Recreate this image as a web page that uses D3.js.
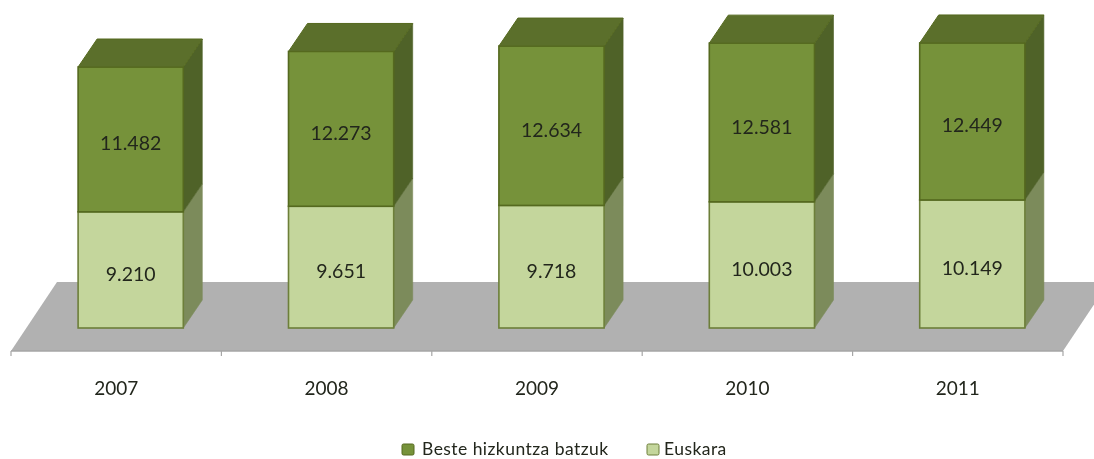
<!DOCTYPE html>
<html><head><meta charset="utf-8">
<script src="https://cdnjs.cloudflare.com/ajax/libs/d3/7.8.5/d3.min.js"></script>
<style>
html,body{margin:0;padding:0;background:#fff;overflow:hidden}
svg{display:block;filter:blur(0.5px)}
text{font-family:Lato,"Open Sans",sans-serif;fill:#22261c}
</style></head><body>
<svg id="c" width="1094" height="459"></svg>
<script>
const years = ["2007","2008","2009","2010","2011"];
const euskara = [9210,9651,9718,10003,10149];
const beste = [11482,12273,12634,12581,12449];
const labelsEuskara = ["9.210","9.651","9.718","10.003","10.149"];
const labelsBeste = ["11.482","12.273","12.634","12.581","12.449"];
const legendNames = ["Beste hizkuntza batzuk","Euskara"];

const dx=19,dy=-28,shift=14.5;
const floorY=351,baseY=328;
const svg=d3.select("#c");
const xAxis=d3.scaleBand().domain(years).range([11,1063]).paddingInner(0.5).paddingOuter(0.25);
const y=d3.scaleLinear().domain([0,20692]).range([baseY,67]);
const bw=xAxis.bandwidth();
const step=xAxis.step();
const line=d3.line();

// floor
const floorDx=46,floorDy=-69;
svg.append("path").attr("d",line([[11,floorY],[1063,floorY],[1063+floorDx,floorY+floorDy],[11+floorDx,floorY+floorDy]])+"Z").attr("fill","#b1b1b1");
// axis line + ticks at the category boundaries
const edges=d3.range(years.length+1).map(i=>11+i*step);
svg.append("line").attr("x1",11).attr("x2",1063).attr("y1",floorY).attr("y2",floorY).attr("stroke","#a6a6a6").attr("stroke-width",1.5);
svg.selectAll(".tk").data(edges).join("line").attr("x1",d=>d).attr("x2",d=>d).attr("y1",floorY).attr("y2",floorY+5).attr("stroke","#a6a6a6").attr("stroke-width",1.2);

const colors={
 dark:{front:"#76923a",side:"#4f6228",top:"#5b6f2b",stroke:"#55691f"},
 light:{front:"#c4d69c",side:"#7c8b5b",top:"#9eb068",stroke:"#6d7f3a"}
};
function seg(x,y0,y1,c){
  const g=svg.append("g");
  g.append("path").attr("d",line([[x+bw,y1],[x+bw+dx,y1+dy],[x+bw+dx,y0+dy],[x+bw,y0]])+"Z").attr("fill",c.side).attr("stroke",c.side).attr("stroke-width",0.6);
  g.append("rect").attr("x",x).attr("y",y1).attr("width",bw).attr("height",y0-y1).attr("fill",c.front).attr("stroke",c.stroke).attr("stroke-width",1.6);
}
years.forEach((yr,i)=>{
  const x=xAxis(yr)+shift;
  const e=euskara[i],b=beste[i];
  seg(x,y(0),y(e),colors.light);
  seg(x,y(e),y(e+b),colors.dark);
  const t=y(e+b);
  svg.append("path").attr("d",line([[x,t],[x+bw,t],[x+bw+dx,t+dy],[x+dx,t+dy]])+"Z").attr("fill",colors.dark.top).attr("stroke",colors.dark.stroke).attr("stroke-width",1);
  const cx=x+bw/2;
  svg.append("text").attr("x",cx).attr("y",(y(0)+y(e))/2+4).attr("dy","0.36em").attr("text-anchor","middle").attr("font-size",19.5).text(labelsEuskara[i]);
  svg.append("text").attr("x",cx).attr("y",(y(e)+t)/2+4).attr("dy","0.36em").attr("text-anchor","middle").attr("font-size",19.5).text(labelsBeste[i]);
  svg.append("text").attr("x",xAxis(yr)+bw/2).attr("y",388).attr("dy","0.36em").attr("text-anchor","middle").attr("font-size",19).text(yr);
});

// legend
const legX=[402,647],legT=[422,664],legC=[colors.dark,colors.light];
legendNames.forEach((n,i)=>{
  svg.append("rect").attr("x",legX[i]).attr("y",444).attr("width",12).attr("height",11).attr("rx",1.5).attr("fill",legC[i].front).attr("stroke",legC[i].stroke).attr("stroke-width",1);
  svg.append("text").attr("x",legT[i]).attr("y",455).attr("font-size",17.5).attr("letter-spacing",0.45).text(n);
});
</script></body></html>
